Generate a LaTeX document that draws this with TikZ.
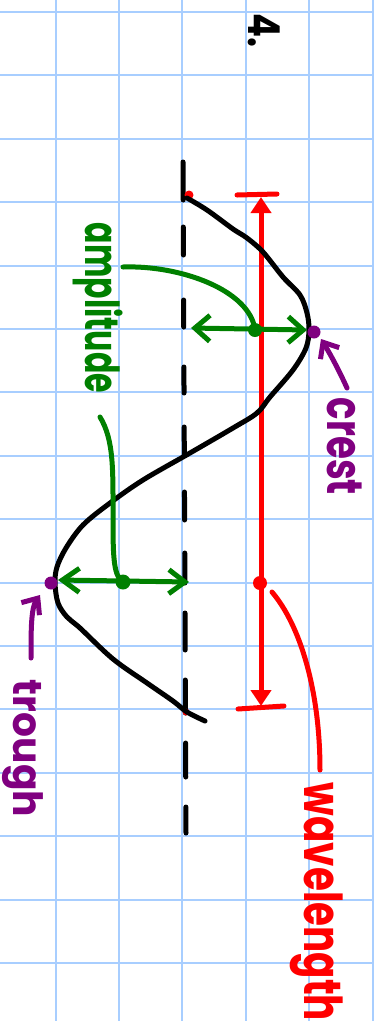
\documentclass[tikz,border=0pt]{standalone}
\usepackage{fontspec}
\setmainfont{Poppins}
\usepackage{graphicx}
\usetikzlibrary{arrows.meta}
\definecolor{gridblue}{RGB}{168,206,255}
\definecolor{ggreen}{RGB}{0,128,0}
\definecolor{rred}{RGB}{255,0,0}
\definecolor{ppurple}{RGB}{128,0,128}
\begin{document}
\begin{tikzpicture}[x=1pt,y=-1pt,
  gridline/.style={gridblue,line width=2pt},
  ink/.style={line width=5pt,line cap=round,line join=round},
  lbl/.style={rotate=-90,inner sep=0pt,anchor=center,font=\bfseries},
  dotmark/.style={circle,inner sep=0pt,minimum size=#1},
]
% page
\fill[white] (0,0) rectangle (374,1021);
\useasboundingbox (0,0) rectangle (374,1021);
% grid
\foreach \x in {55.5,118.9,182.3,245.7,309.1,372.5}
  \draw[gridline] (\x,0) -- (\x,1021);
\foreach \k in {0,...,15}
  \draw[gridline] (0,{12+63.4*\k}) -- (374,{12+63.4*\k});

% number
\node[lbl,text=black] (num) at (264,30) {\resizebox*{34pt}{32pt}{4.}};

% dashed axis
\foreach \a/\b in {162/200,227/255,300/327,367/393,427/455,492/520,553/583,613/650,680/713,743/777,807/833}
  \draw[ink,black] ({183+(\a-162)*3/671},\a) -- ({183+(\b-162)*3/671},\b);

% key points
\coordinate (start) at (187,198);
\coordinate (crest) at (309,330);
\coordinate (trough) at (55,582);
\coordinate (end) at (205,721);

% red wavelength
\node[dotmark=9pt,fill=rred] (rs) at (189,195) {};
\node[dotmark=7pt,fill=rred] (re) at (186,712) {};
\coordinate (rtop) at (261,197);
\coordinate (rbot) at (261,706);
\draw[ink,rred,{Triangle[length=16pt,width=20pt]}-{Triangle[length=16pt,width=20pt]}] (rtop) -- (rbot);
\draw[ink,rred] (237,195) -- (277,194);
\draw[ink,rred] (238,709) -- (284,706);
\node[dotmark=14pt,fill=rred] (rdot) at (260,583) {};
\coordinate (wlend) at (320,770);
\draw[ink,rred] (272,592) .. controls (300,625) and (320,690) .. (wlend);
\node[lbl,text=rred] (wl) at (316.5,902) {\resizebox*{238pt}{53pt}{wavelength}};

% wave
\draw[ink,black] plot[smooth,tension=0.55] coordinates {
  (187,198) (207,210) (233,229) (247,238) (263,252) (283,277) (300,295)
  (307,313) (309,330) (306,348) (293,370) (270,397) (257,413) (233,428)
  (190,453) (143,480) (110,503) (83,525) (66,548) (57,567) (55,583)
  (58,603) (67,617) (80,628) (113,659) (147,683) (173,701) (187,712) (205,721)};

% green amplitude (crest)
\node[dotmark=14pt,fill=ggreen] (gd1) at (255,330) {};
\draw[ink,ggreen,{Straight Barb[length=15pt,width=26pt]}-{Straight Barb[length=15pt,width=26pt]}] (191,328) -- (307,330);
\draw[ink,ggreen] (123,267) .. controls (180,265) and (250,290) .. (gd1.center);
% green amplitude (trough)
\node[dotmark=15pt,fill=ggreen] (gd2) at (123,582) {};
\draw[ink,ggreen,{Straight Barb[length=17pt,width=24pt]}-{Straight Barb[length=16pt,width=24pt]}] (58,580) -- (189,582);
\draw[ink,ggreen] (100,417) .. controls (114,440) and (113,470) .. (113,520) .. controls (113,560) and (114,576) .. (gd2.center);
\node[lbl,text=ggreen] (amp) at (98,308) {\resizebox*{170pt}{50pt}{amplitude}};

% purple crest / trough
\node[dotmark=13pt,fill=ppurple] (pc) at (314,332) {};
\draw[ink,ppurple,-{Straight Barb[length=13pt,width=22pt]}] (347,388) .. controls (338,368) and (329,352) .. (321,339);
\node[lbl,text=ppurple] (crestlbl) at (344.5,446.5) {\resizebox*{97pt}{35pt}{crest}};
\node[dotmark=13pt,fill=ppurple] (pt) at (51,583) {};
\draw[ink,ppurple,-{Straight Barb[length=13pt,width=22pt]}] (31,658) .. controls (31,630) and (31,608) .. (40,595);
\node[lbl,text=ppurple] (troughlbl) at (22.5,748.5) {\resizebox*{137pt}{41pt}{trough}};
\end{tikzpicture}
\end{document}
